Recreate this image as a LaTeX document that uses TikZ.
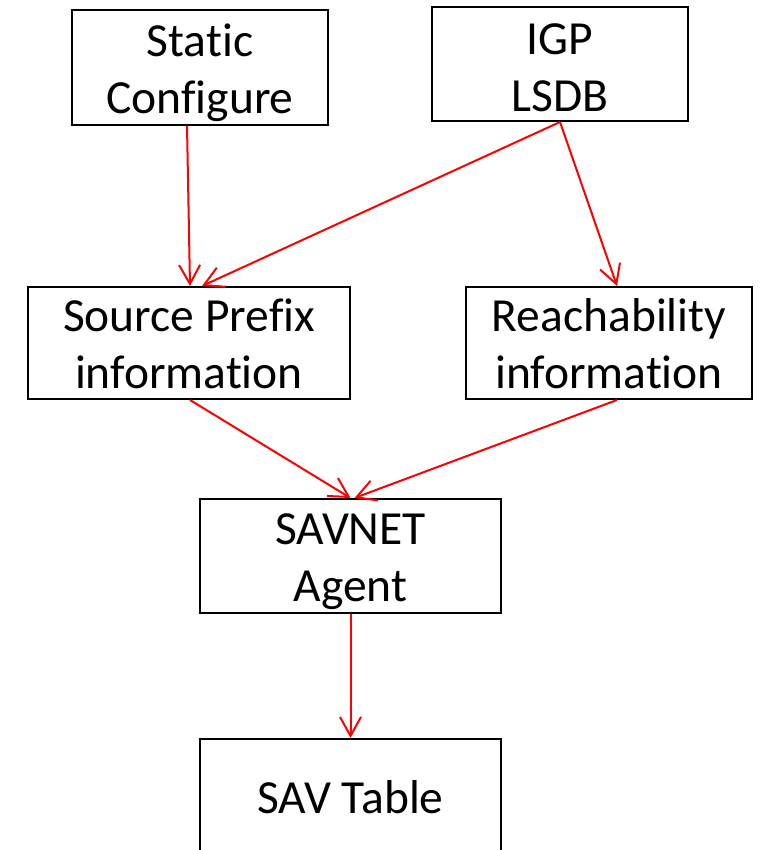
\documentclass[tikz,border=0pt]{standalone}
\usepackage{fontspec}
\setmainfont{Carlito}[RawFeature={-liga;-clig;-dlig;-calt}]
\usepackage{tikz}
\usetikzlibrary{arrows.meta}
\usetikzlibrary{positioning}
\definecolor{arrowred}{RGB}{255, 0, 0}
% keep t and i apart (no ligature)
\newcommand{\nolig}{\kern0pt}

\tikzset{
    infobox/.style={draw=black, line width=2pt, rectangle, inner sep=0pt},
    boxtext/.style={align=center, inner sep=0pt, font=\fontsize{47.5}{57}\selectfont},
    feed/.style={draw=arrowred, line width=2pt,
                 -{Straight Barb[length=19pt, width=21pt, line width=2pt]}}
}

\begin{document}
\begin{tikzpicture}[x=1pt, y=-1pt]
            % Frame to fix the page size:
            \useasboundingbox                                 (0, 0) rectangle (775, 850);
            % Inputs
            \node[infobox, minimum width=256pt, minimum height=115pt,
                  label={[boxtext, yshift=-5pt]center:Stat\nolig ic\\Configure}]      (static) at (200.0,  67.5) {};
            \node[infobox, minimum width=256pt, minimum height=114pt,
                  label={[boxtext, yshift=-4pt]center:IGP\\LSDB}]              (lsdb)   at (560.0,  64.0) {};
            % Information
            \node[infobox, minimum width=322pt, minimum height=112pt,
                  label={[boxtext, yshift=-1pt]center:Source Prefix\\informat\nolig ion}] (prefix) at (189.0, 343.0) {};
            \node[infobox, minimum width=286pt, minimum height=112pt,
                  label={[boxtext, yshift=-1pt]center:Reachability\\informat\nolig ion}]  (reach)  at (609.0, 343.0) {};
            % Agent & table
            \node[infobox, minimum width=301pt, minimum height=114pt,
                  label={[boxtext, yshift=-6pt]center:SAVNET\\Agent}]          (agent)  at (350.5, 556.0) {};
            \node[infobox, minimum width=301pt, minimum height=116pt,
                  label={[boxtext]center:SAV Table}]                           (table)  at (350.5, 797.0) {};
            % Arrows
            \draw[feed] ([xshift=-13pt]static.south) -- ([xshift= 1pt]prefix.north);
            \draw[feed] (lsdb.south)                 -- ([xshift=13pt]prefix.north);
            \draw[feed] (lsdb.south)                 -- ([xshift= 8pt]reach.north);
            \draw[feed] ([xshift= 1pt]prefix.south)  -- (agent.north);
            \draw[feed] ([xshift= 8pt]reach.south)   -- ([xshift= 4pt]agent.north);
            \draw[feed] (agent.south)                -- (table.north);
        \end{tikzpicture}
\end{document}
